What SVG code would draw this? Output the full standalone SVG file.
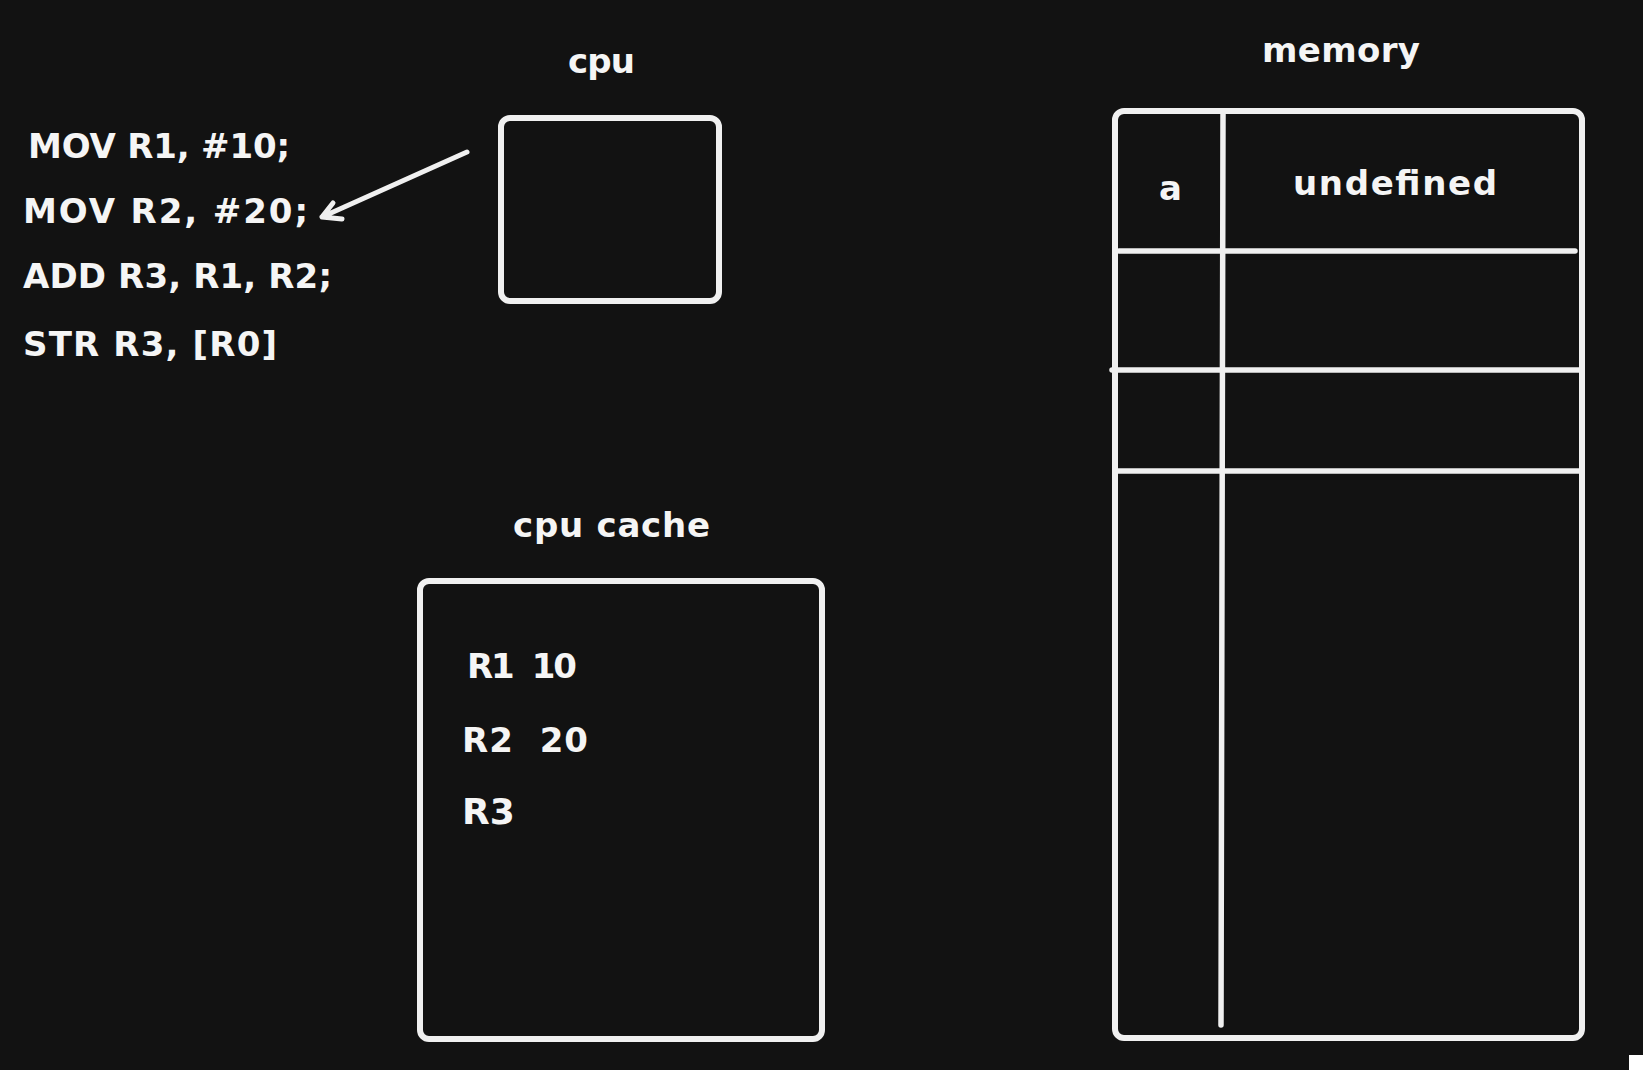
<svg xmlns="http://www.w3.org/2000/svg" width="1643" height="1070" viewBox="0 0 1643 1070">
<defs>
<style>
.bg{fill:#121212}
.box{fill:none;stroke:#f0f0f0;stroke-width:6;stroke-linecap:round;stroke-linejoin:round}
.ln{fill:none;stroke:#f0f0f0;stroke-width:5.5;stroke-linecap:round}
.conn{fill:none;stroke:#f0f0f0;stroke-width:5;stroke-linecap:round;stroke-linejoin:round}
.t{fill:#f5f5f5;font-family:"DejaVu Sans","Liberation Sans",sans-serif;font-weight:bold}
.code{font-size:34px}
.lbl{font-size:34px}
</style>
</defs>
<rect class="bg" x="0" y="0" width="1643" height="1070"/>
<rect x="1629" y="1055" width="14" height="15" fill="#ffffff"/>

<g id="code">
<text class="t code" x="28" y="158" textLength="262">MOV R1, #10;</text>
<text class="t code" x="23" y="223" textLength="285">MOV R2, #20;</text>
<text class="t code" x="23" y="288" textLength="309">ADD R3, R1, R2;</text>
<text class="t code" x="23" y="356" textLength="254">STR R3, [R0]</text>
</g>

<g id="cpu">
<text class="t lbl" x="568" y="73" textLength="67">cpu</text>
<rect class="box" x="501" y="118" width="218" height="183" rx="9"/>
</g>

<g id="cpu-cache">
<text class="t lbl" x="513" y="537" textLength="197">cpu cache</text>
<rect class="box" x="420" y="581" width="402" height="458" rx="9"/>
<text class="t lbl" x="467" y="678" textLength="110" xml:space="preserve">R1  10</text>
<text class="t lbl" x="462" y="752" textLength="126" xml:space="preserve">R2  20</text>
<text class="t lbl" x="462" y="824" style="font-size:36px">R3</text>
</g>

<g id="memory">
<text class="t lbl" x="1262" y="62" textLength="158">memory</text>
<rect class="box" x="1115" y="111" width="467" height="927" rx="9"/>
<line class="ln" x1="1223" y1="114" x2="1221" y2="1025"/>
<line class="ln" x1="1119" y1="251" x2="1575" y2="251"/>
<line class="ln" x1="1112" y1="370" x2="1580" y2="370"/>
<line class="ln" x1="1116" y1="471" x2="1580" y2="471"/>
<text class="t lbl" x="1159" y="200" textLength="24">a</text>
<text class="t lbl" x="1293" y="195" textLength="204">undefined</text>
</g>

<g id="connectors">
<path class="conn" d="M467 152 L322 217 M333 203 L322 217 L342 219"/>
</g>
</svg>
